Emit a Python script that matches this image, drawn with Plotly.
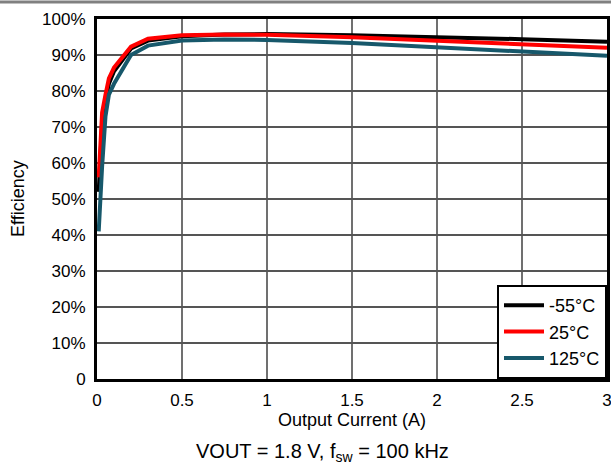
import plotly.graph_objects as go

current = [0.01, 0.02, 0.03, 0.05, 0.07, 0.1, 0.2, 0.3, 0.5, 0.75, 1.0, 1.5, 2.0, 2.5, 3.0]
eff_m55 = [52, 65, 71, 77, 82, 85.5, 91.8, 94.0, 95.2, 95.7, 95.8, 95.5, 95.0, 94.4, 93.7]
eff_25 = [56, 68, 74, 79, 83.5, 86.5, 92.3, 94.5, 95.5, 95.7, 95.6, 94.9, 94.0, 93.0, 92.0]
eff_125 = [41, 53, 59, 73, 79, 82, 90, 92.6, 94.0, 94.3, 94.2, 93.3, 92.2, 91.0, 89.8]

series_names = ["-55°C", "25°C", "125°C"]
series_colors = ["#000000", "#FF0000", "#17586B"]

x_tickvals = [0, 0.5, 1, 1.5, 2, 2.5, 3]
x_ticktext = ["0", "0.5", "1", "1.5", "2", "2.5", "3"]
y_tickvals = [0, 10, 20, 30, 40, 50, 60, 70, 80, 90, 100]
y_ticktext = ["0", "10%", "20%", "30%", "40%", "50%", "60%", "70%", "80%", "90%", "100%"]

fig = go.Figure()
for name, ys, col in zip(series_names, [eff_m55, eff_25, eff_125], series_colors):
    fig.add_trace(go.Scatter(x=current, y=ys, mode="lines", name=name,
                             line=dict(color=col, width=4)))

font = dict(family="Liberation Sans, Arial, sans-serif", size=17, color="#000")

W, H = 510, 360
L, T = 97, 19
FW, FH = 611, 468
R, B = FW - L - W, FH - T - H

fig.update_layout(
    width=FW, height=FH,
    margin=dict(l=L, r=R, t=T, b=B, autoexpand=False),
    paper_bgcolor="white", plot_bgcolor="white",
    font=font,
    showlegend=True,
    legend=dict(x=1, xanchor="right", y=0, yanchor="bottom",
                bgcolor="white", bordercolor="black", borderwidth=2,
                font=dict(size=18), tracegroupgap=0,
                itemwidth=40),
    xaxis=dict(range=[0, 3], tickvals=x_tickvals, ticktext=x_ticktext,
               showgrid=True, gridcolor="#707070", gridwidth=1.5,
               showline=True, linecolor="black", linewidth=3, mirror=True,
               ticks="", zeroline=False, automargin=False, ticklabelstandoff=4,
               ticklabeloverflow="allow",
               title=dict(text="Output Current (A)", standoff=0, font=dict(size=18))),
    yaxis=dict(range=[0, 100], tickvals=y_tickvals, ticktext=y_ticktext,
               showgrid=True, gridcolor="#555555", gridwidth=1.5,
               showline=True, linecolor="black", linewidth=3, mirror=True,
               ticks="", zeroline=False, automargin=False, ticklabelstandoff=5,
               ticklabeloverflow="allow"),
    annotations=[
        dict(text="Efficiency", xref="paper", yref="paper",
             x=(18 - L) / W, y=0.5, textangle=-90,
             xanchor="center", yanchor="middle", showarrow=False,
             font=dict(size=18)),
        dict(text="VOUT = 1.8 V, f<sub>sw</sub> = 100 kHz",
             xref="paper", yref="paper", x=(322 - L) / W, y=-(452 - 379) / H,
             xanchor="center", yanchor="middle", showarrow=False,
             font=dict(size=20))],
    shapes=[dict(type="line", xref="paper", yref="paper",
                 x0=-L / W, x1=1 + R / W, y0=(379 - 2) / H, y1=(379 - 2) / H,
                 line=dict(color="#808080", width=3))],
)

fig.write_html("out.html",
               config={"displayModeBar": False},
               post_script="document.body.style.margin='0';document.body.style.overflow='hidden';")
